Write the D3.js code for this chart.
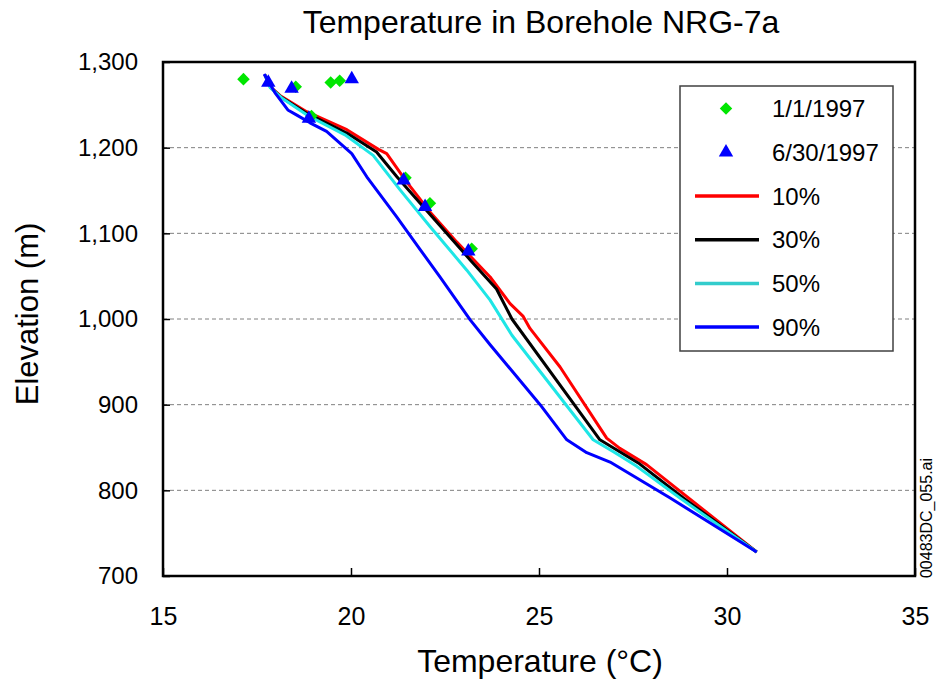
<!DOCTYPE html>
<html>
<head>
<meta charset="utf-8">
<script src="https://cdn.jsdelivr.net/npm/d3@7"></script>
<style>
  html, body { margin: 0; padding: 0; background: #fff; }
  svg { display: block; font-family: "Liberation Sans", Arial, sans-serif; }
</style>
</head>
<body>
<svg id="chart" width="938" height="685"></svg>
<script>
// ---------- data (temperature °C, elevation m) ----------
const xTicks = [15, 20, 25, 30, 35];
const yTicks = [700, 800, 900, 1000, 1100, 1200, 1300];
const gridValues = [800, 900, 1000, 1100, 1200];

const obsJan = [ // 1/1/1997
  [17.14, 1280], [18.53, 1271], [19.46, 1276], [19.70, 1278],
  [18.95, 1237], [21.45, 1165], [22.10, 1135], [23.21, 1082]
];
const obsJun = [ // 6/30/1997
  [17.80, 1276], [18.42, 1269], [20.02, 1280], [18.88, 1234],
  [21.40, 1162], [21.97, 1131], [23.12, 1079]
];

const p10 = [
  [17.71, 1285], [17.85, 1271], [18.11, 1261], [18.82, 1242], [19.89, 1221],
  [20.73, 1198], [20.95, 1193], [21.48, 1160], [22.10, 1125], [22.81, 1090],
  [23.70, 1049], [24.23, 1018], [24.58, 1003], [24.76, 989], [25.56, 944],
  [26.80, 861], [27.15, 849], [27.86, 830], [30.79, 728]
];
const p30 = [
  [17.71, 1285], [17.87, 1270], [18.14, 1259], [18.83, 1240], [19.89, 1217],
  [20.68, 1195], [21.22, 1166], [21.84, 1135], [23.17, 1069], [23.87, 1035],
  [24.28, 1000], [26.62, 859], [27.64, 832], [28.84, 791], [30.79, 728]
];
const p50 = [
  [17.71, 1285], [17.85, 1270], [18.16, 1258], [18.83, 1238], [19.84, 1215],
  [20.59, 1191], [21.30, 1151], [22.10, 1108], [23.08, 1057], [23.70, 1022],
  [24.28, 981], [26.44, 859], [26.98, 845], [27.60, 828], [28.75, 791], [30.79, 728]
];
const p90 = [
  [17.69, 1286], [17.98, 1264], [18.32, 1244], [18.56, 1238], [18.91, 1229],
  [19.35, 1219], [20.02, 1193], [20.42, 1166], [21.22, 1119], [21.84, 1081],
  [22.37, 1049], [23.17, 999], [23.70, 970], [25.03, 900], [25.74, 859],
  [26.27, 844], [26.89, 833], [28.49, 791], [30.79, 728]
];

const lineSeries = [
  { name: "10%", data: p10, color: "#ff0000" },
  { name: "30%", data: p30, color: "#000000" },
  { name: "50%", data: p50, color: "#1ee6e6" },
  { name: "90%", data: p90, color: "#0000ff" }
];

// ---------- layout ----------
const L = 163, R = 915, T = 62, B = 576;
const svg = d3.select("#chart");
const x = d3.scaleLinear().domain([15, 35]).range([L, R]);
const y = d3.scaleLinear().domain([700, 1300]).range([B, T]);

// grid
svg.append("g").selectAll("line").data(gridValues).join("line")
  .attr("x1", L).attr("x2", R)
  .attr("y1", d => y(d)).attr("y2", d => y(d))
  .attr("stroke", "#808080").attr("stroke-width", 1)
  .attr("stroke-dasharray", "4,3");

// axes
const fmt = d3.format(",");
const gy = svg.append("g").attr("transform", `translate(${L},0)`)
  .call(d3.axisLeft(y).tickValues(yTicks).tickFormat(fmt)
    .tickSizeInner(-7).tickSizeOuter(0).tickPadding(25));
const gx = svg.append("g").attr("transform", `translate(0,${B})`)
  .call(d3.axisBottom(x).tickValues(xTicks).tickFormat(d3.format("d"))
    .tickSizeInner(-8).tickSizeOuter(0).tickPadding(31));
[gy, gx].forEach(g => {
  g.select(".domain").remove();
  g.selectAll(".tick line").attr("stroke", "#000").attr("stroke-width", 1.5);
  g.selectAll(".tick text").attr("fill", "#000")
    .style("font-size", "24px")
    .style("font-family", "'Liberation Sans', Arial, sans-serif");
});
gx.selectAll(".tick text").style("font-size", "25px");

// lines
const lineGen = d3.line().x(d => x(d[0])).y(d => y(d[1]));
svg.append("g").selectAll("path").data(lineSeries).join("path")
  .attr("d", d => lineGen(d.data))
  .attr("fill", "none")
  .attr("stroke", d => d.color)
  .attr("stroke-width", 3)
  .attr("stroke-linejoin", "round");

// markers
const diamond = d3.symbol().type(d3.symbolDiamond2).size(100);
const tri = d3.symbol().type(d3.symbolTriangle).size(90);
svg.append("g").selectAll("path").data(obsJan).join("path")
  .attr("d", diamond)
  .attr("transform", d => `translate(${x(d[0])},${y(d[1])})`)
  .attr("fill", "#00e600");
svg.append("g").selectAll("path").data(obsJun).join("path")
  .attr("d", tri)
  .attr("transform", d => `translate(${x(d[0])},${y(d[1])})`)
  .attr("fill", "#0000ff");

// frame
svg.append("rect").attr("x", L).attr("y", T)
  .attr("width", R - L).attr("height", B - T)
  .attr("fill", "none").attr("stroke", "#000").attr("stroke-width", 2.5);

// legend
const lg = svg.append("g");
lg.append("rect").attr("x", 680).attr("y", 86).attr("width", 213).attr("height", 265)
  .attr("fill", "#fff").attr("stroke", "#404040").attr("stroke-width", 1.5);
const rowY = i => 108.6 + i * 43.7;
const legendItems = [
  { label: "1/1/1997", kind: "diamond", color: "#00e600" },
  { label: "6/30/1997", kind: "tri", color: "#0000ff" },
  ...lineSeries.map(s => ({ label: s.name, kind: "line", color: s.name === "50%" ? "#33cccc" : s.color }))
];
legendItems.forEach((it, i) => {
  const cy = rowY(i);
  if (it.kind === "diamond") {
    lg.append("path").attr("d", diamond).attr("transform", `translate(726,${cy})`).attr("fill", it.color);
  } else if (it.kind === "tri") {
    lg.append("path").attr("d", tri).attr("transform", `translate(726,${cy})`).attr("fill", it.color);
  } else {
    lg.append("line").attr("x1", 695).attr("x2", 759).attr("y1", cy).attr("y2", cy)
      .attr("stroke", it.color).attr("stroke-width", 3.5);
  }
  lg.append("text").attr("x", 772).attr("y", cy + 8.5)
    .style("font-size", "24px").attr("fill", "#000").text(it.label);
});

// titles
svg.append("text").attr("x", 541).attr("y", 33).attr("text-anchor", "middle")
  .style("font-size", "32px").attr("fill", "#000").text("Temperature in Borehole NRG-7a");
svg.append("text").attr("x", 540).attr("y", 672).attr("text-anchor", "middle")
  .style("font-size", "32px").attr("fill", "#000").text("Temperature (°C)");
svg.append("text").attr("transform", "translate(38,314) rotate(-90)").attr("text-anchor", "middle")
  .style("font-size", "31px").attr("fill", "#000").text("Elevation (m)");
svg.append("text").attr("transform", "translate(932,518) rotate(-90)").attr("text-anchor", "middle")
  .style("font-size", "16px").attr("fill", "#000").text("00483DC_055.ai");
</script>
</body>
</html>
